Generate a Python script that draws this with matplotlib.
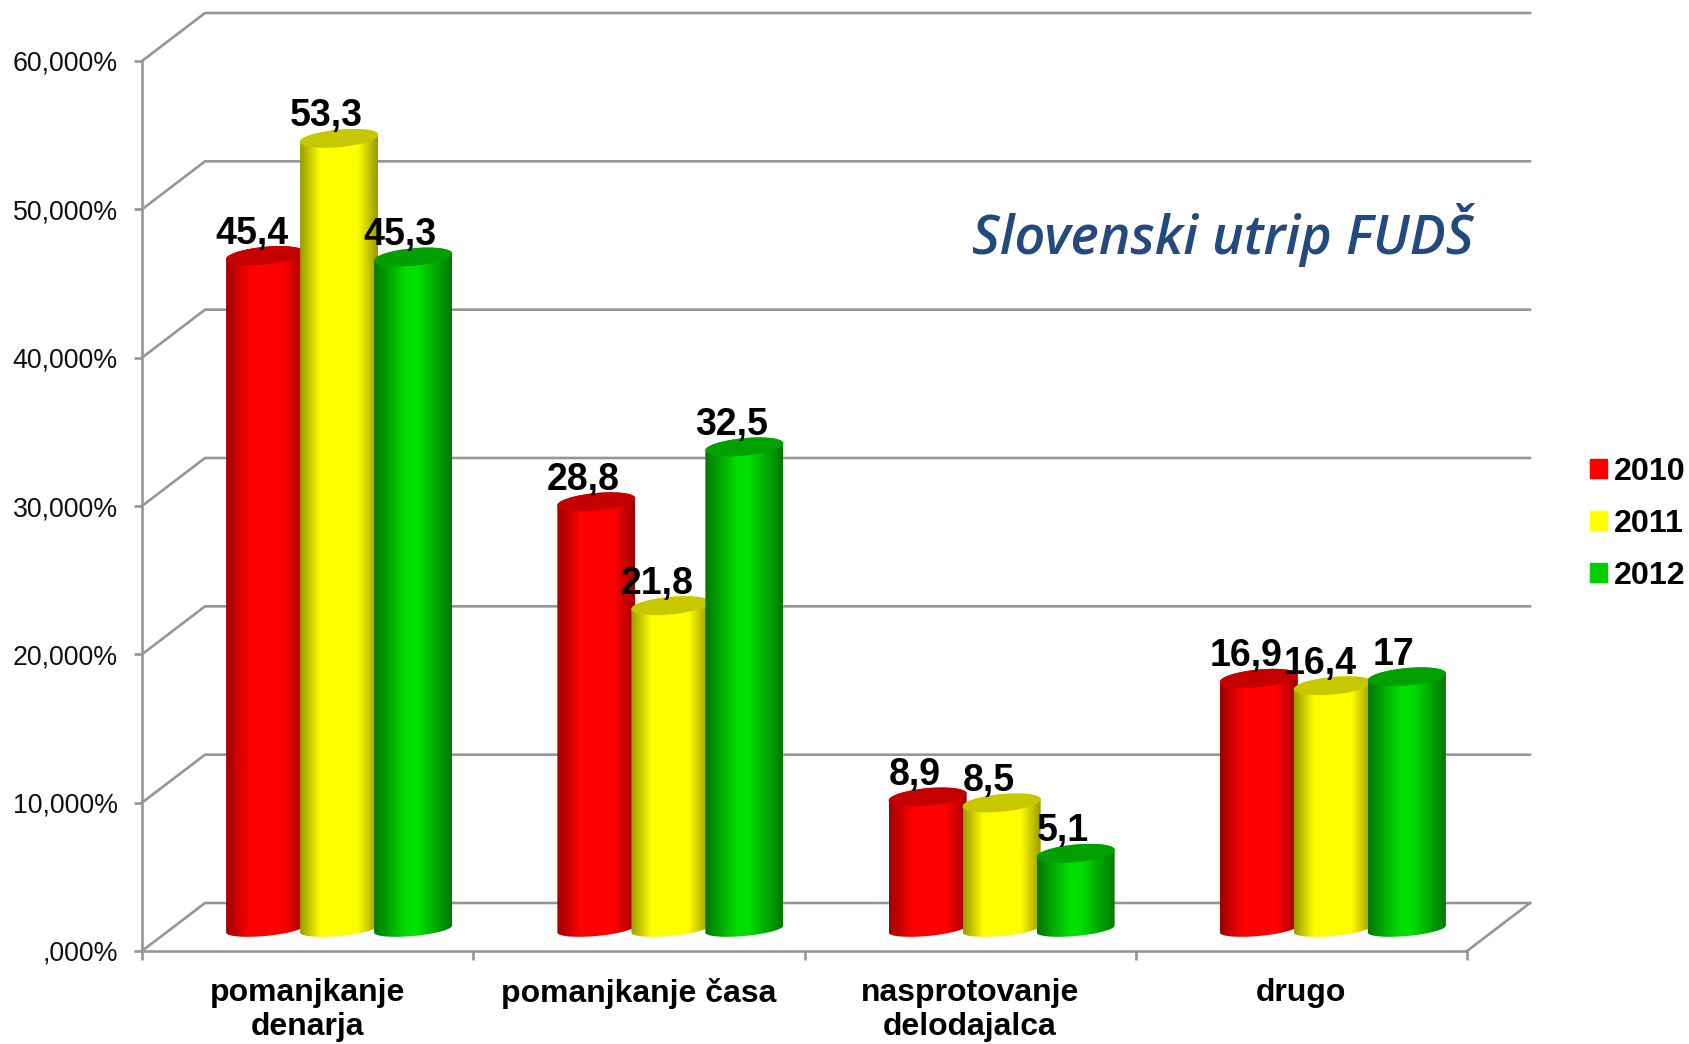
import numpy as np
import matplotlib
matplotlib.use("Agg")
import matplotlib.pyplot as plt
from matplotlib.colors import LinearSegmentedColormap
from matplotlib.patches import Patch, Polygon

# Podatki
categories = ["pomanjkanje\ndenarja", "pomanjkanje časa", "nasprotovanje\ndelodajalca", "drugo"]
years = ["2010", "2011", "2012"]
values_2010 = [45.4, 28.8, 8.9, 16.9]
values_2011 = [53.3, 21.8, 8.5, 16.4]
values_2012 = [45.3, 32.5, 5.1, 17]
y_ticks = [0, 10, 20, 30, 40, 50, 60]
y_labels = [",000%", "10,000%", "20,000%", "30,000%", "40,000%", "50,000%", "60,000%"]

series = [values_2010, values_2011, values_2012]
flat_colors = ["#ff0000", "#ffff00", "#00d000"]
bright = ["#ff0000", "#ffff00", "#00e000"]
dark = ["#a00000", "#9a9a00", "#007800"]
cap_colors = ["#c40000", "#c8c800", "#00a000"]
shade_in = [0.3, 0.26, 0.42]
shade_out = [0.72, 0.74, 0.56]
GRID = "#969696"

W, H = 1689, 1044
LEFT, RIGHT, TOP, BOTTOM = 142, 1467, 61, 951
px_x = (RIGHT - LEFT) / 4
px_y = (BOTTOM - TOP) / 60

plt.rcParams["font.family"] = ["Liberation Sans", "DejaVu Sans"]

fig = plt.figure(figsize=(W / 100, H / 100), dpi=100)
ax = fig.add_axes([LEFT / W, 1 - BOTTOM / H, (RIGHT - LEFT) / W, (BOTTOM - TOP) / H])

depth_x = 63 / px_x
depth_y = 48 / px_y
bar_step = 74 / px_x
half_w = 39 / px_x
ell_b = 8.8 / px_y
ell_s = 3.5 / px_y
foot_b = 7 / px_y
base_y = 22 / px_y

# Stene grafa
for y in y_ticks:
    ax.plot([0, depth_x, 4 + depth_x], [y, y + depth_y, y + depth_y], color=GRID, lw=1.9,
            clip_on=False, zorder=1, solid_joinstyle="miter")
ax.plot([4, 4 + depth_x], [0, depth_y], color=GRID, lw=1.9, clip_on=False, zorder=1)


def ellipse(cx, cy, t, b):
    return cx + half_w * np.cos(t), cy + b * np.sin(t) + ell_s * np.cos(t)


# Valji
for k, vals in enumerate(series):
    cmap = LinearSegmentedColormap.from_list(
        "cyl" + str(k),
        [(0, dark[k]), (shade_in[k], bright[k]), (shade_out[k], bright[k]), (1, dark[k])])
    z = 3 + k
    for i, v in enumerate(vals):
        cx = i + 0.5 + depth_x / 2 + (k - 1) * bar_step
        top = base_y + v
        xb, yb = ellipse(cx, base_y, np.linspace(np.pi, 2 * np.pi, 60), foot_b)
        xt, yt = ellipse(cx, top, np.linspace(0, np.pi, 60), ell_b)
        outline = np.column_stack([np.r_[xb, xt], np.r_[yb, yt]])
        body = Polygon(outline, closed=True, transform=ax.transData, fc="none", ec="none")
        ax.add_patch(body)
        im = ax.imshow(np.linspace(0, 1, 256)[None, :], cmap=cmap, aspect="auto", zorder=z,
                       extent=[cx - half_w, cx + half_w, base_y - 2 * ell_b, top + 2 * ell_b],
                       interpolation="bilinear")
        im.set_clip_path(body)
        xc, yc = ellipse(cx, top, np.linspace(0, 2 * np.pi, 120), ell_b)
        ax.fill(xc, yc, color=cap_colors[k], lw=0, zorder=z)
        ax.annotate(f"{v:g}".replace(".", ","), (cx, top), xytext=(-9.4, 8.6),
                    textcoords="offset points", ha="center", va="baseline",
                    fontsize=27, fontweight="bold", color="black", zorder=20,
                    annotation_clip=False)

ax.set_xlim(0, 4)
ax.set_ylim(0, 60)
ax.set_yticks(y_ticks)
ax.set_yticklabels(y_labels, fontsize=19.3, color="#111111")
ax.set_xticks([0, 1, 2, 3, 4])
ax.set_xticklabels([])
ax.set_xticks([0.5, 1.5, 2.5, 3.5], minor=True)
ax.set_xticklabels(categories, minor=True, fontsize=23, fontweight="bold", linespacing=1.19)
ax.tick_params(axis="y", color=GRID, width=1.9, length=5.8, pad=11.5)
ax.tick_params(axis="x", which="major", color=GRID, width=1.9, length=6.5)
ax.tick_params(axis="x", which="minor", length=0, pad=19.5)

for s in ["top", "right"]:
    ax.spines[s].set_visible(False)
for s in ["left", "bottom"]:
    ax.spines[s].set_color(GRID)
    ax.spines[s].set_linewidth(1.9)
ax.patch.set_visible(False)

fig.text(972 / W, 1 - 254 / H, "Slovenski utrip FUDŠ", fontsize=38.8, style="italic",
         fontweight="semibold", color="#24497c", family="Open Sans", va="baseline")

handles = [Patch(color=c, label=y) for c, y in zip(flat_colors, years)]
fig.legend(handles=handles, loc="center left", bbox_to_anchor=(1590 / W, 1 - 524 / H),
           frameon=False, borderpad=0, borderaxespad=0,
           prop={"weight": "bold", "size": 23.2}, handlelength=0.53, handleheight=0.53,
           handletextpad=0.2, labelspacing=0.68)

fig.savefig("out.png", dpi=100)
